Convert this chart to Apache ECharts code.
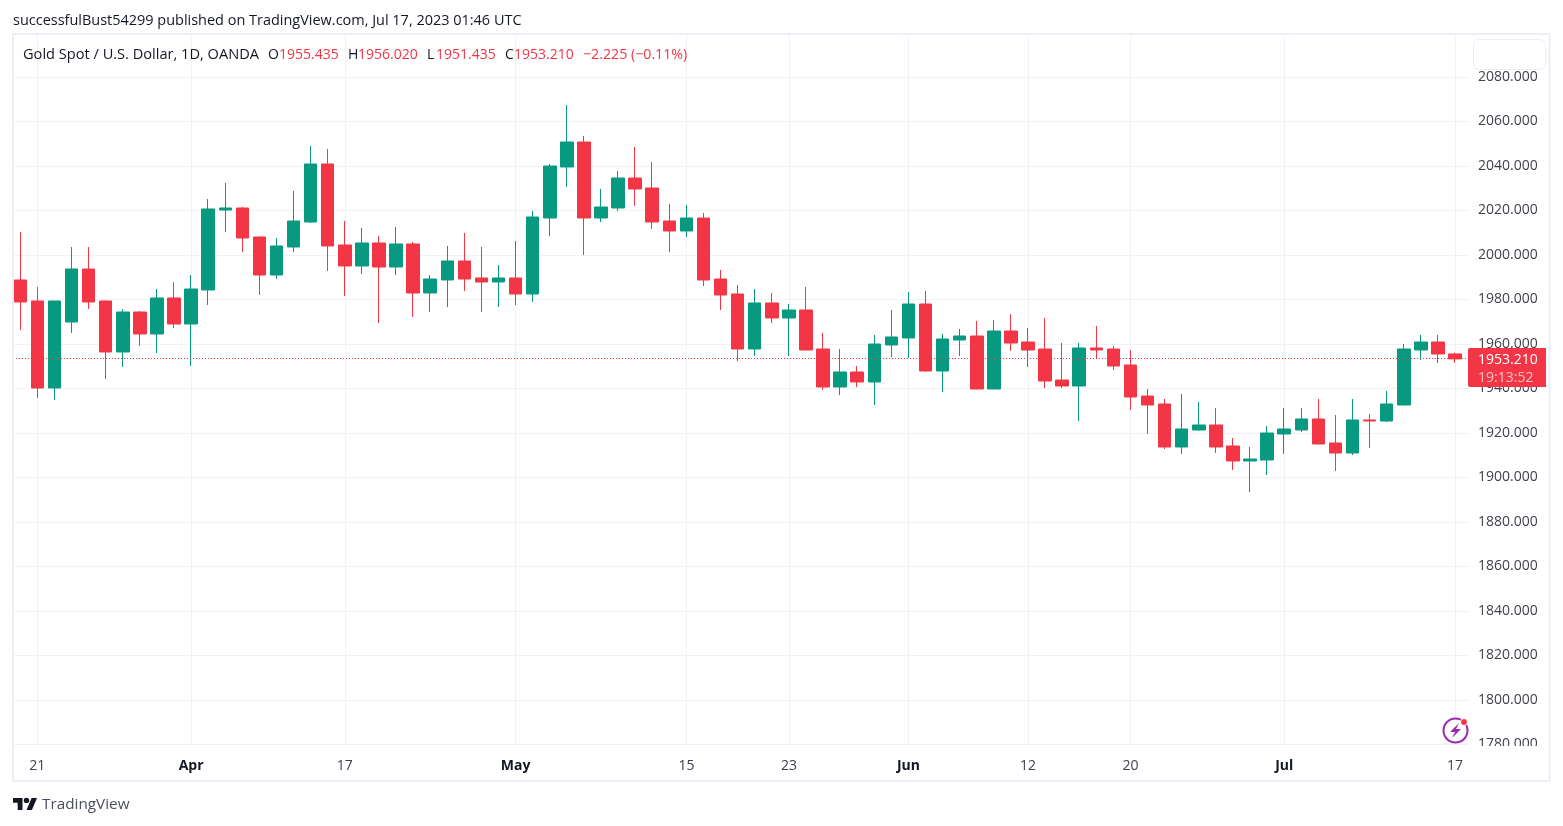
<!DOCTYPE html>
<html><head><meta charset="utf-8">
<style>html,body{margin:0;padding:0;background:#fff}#c{width:1563px;height:826px}</style>
<script src="https://cdn.jsdelivr.net/npm/echarts@6/dist/echarts.min.js"></script>
</head><body><div id="c"></div>
<script>
const FONT = '"Open Sans", sans-serif';
const UP = '#089981', DOWN = '#F23645', GRID = '#F1F2F4', BORDER = '#EEEFF6', TEXT = '#131722', AXIS_TEXT = '#3F424C';

const opens = [1988.68,1979.24,1940.14,1969.8,1993.62,1979.24,1956.32,1974.29,1964.41,1980.59,1968.9,1984.18,2020.14,2021.04,2008.0,1990.92,2003.51,2014.74,2040.81,2004.41,1994.97,2005.31,1994.52,2004.86,1982.83,1988.68,1997.22,1989.58,1987.78,1989.58,1982.38,2016.54,2039.46,2050.7,2016.54,2021.04,2034.52,2030.03,2015.19,2010.7,2016.54,1989.13,1982.38,1957.67,1978.34,1971.6,1975.19,1957.66,1940.59,1947.33,1942.83,1959.46,1962.61,1977.89,1947.78,1961.71,1963.51,1939.69,1965.75,1960.81,1957.66,1943.73,1941.04,1958.11,1957.66,1950.47,1936.54,1932.95,1913.62,1921.26,1923.51,1914.07,1907.33,1907.78,1919.46,1921.26,1926.21,1915.42,1910.92,1925.76,1925.31,1932.5,1957.22,1960.81,1955.435];
const closes = [1978.79,1940.14,1979.24,1993.62,1978.79,1956.32,1974.29,1964.41,1980.59,1968.9,1984.63,2020.59,2021.04,2007.55,1990.92,2003.96,2015.19,2040.81,2003.96,1994.97,2005.31,1994.52,2004.86,1982.83,1989.13,1997.22,1989.13,1987.78,1989.58,1982.38,2016.99,2039.91,2050.7,2016.54,2021.49,2034.52,2029.58,2014.74,2010.7,2016.54,1988.68,1981.94,1957.67,1978.34,1971.6,1975.19,1957.21,1940.59,1947.33,1942.83,1959.91,1963.06,1977.89,1947.78,1962.16,1963.51,1939.69,1965.75,1960.36,1957.21,1943.28,1941.04,1958.11,1957.21,1950.02,1936.09,1932.5,1913.62,1921.71,1923.51,1913.62,1907.33,1908.23,1919.91,1921.71,1926.21,1914.97,1910.92,1925.76,1925.31,1932.95,1957.67,1960.81,1955.42,1953.21];
const lows = [1966.2,1935.64,1934.74,1964.86,1975.64,1944.18,1949.58,1959.01,1955.87,1967.1,1950.03,1977.44,2010.25,2001.26,1981.94,1989.13,2001.26,2014.29,1992.72,1981.49,1991.37,1969.35,1990.92,1972.05,1974.29,1976.54,1983.73,1974.29,1976.54,1977.44,1978.79,2008.45,2030.47,1999.91,2014.74,2019.69,2021.94,2011.6,2001.26,2008.0,1985.98,1975.19,1952.27,1954.52,1969.35,1954.52,1957.0,1939.24,1936.99,1940.59,1932.5,1954.07,1953.62,1947.5,1938.34,1954.52,1939.5,1939.5,1956.77,1949.57,1940.14,1940.14,1925.3,1953.17,1948.23,1930.25,1919.46,1912.72,1910.48,1921.0,1910.92,1903.28,1893.4,1901.04,1910.48,1920.36,1914.8,1902.83,1910.03,1913.17,1924.86,1932.3,1952.72,1951.37,1951.435];
const highs = [2010.25,1985.53,1979.24,2003.51,2003.51,1979.5,1975.64,1974.74,1984.63,1987.78,1990.92,2025.08,2032.27,2021.49,2008.2,2007.55,2028.68,2048.9,2047.55,2015.19,2012.05,2008.45,2012.5,2005.76,1990.92,2003.96,2009.8,2003.51,1995.42,2006.2,2019.69,2040.81,2067.33,2053.4,2029.58,2037.67,2048.45,2041.71,2022.83,2022.38,2018.79,1993.17,1986.43,1984.63,1982.83,1977.89,1985.53,1964.86,1957.66,1950.02,1963.96,1975.19,1983.28,1983.73,1964.41,1966.65,1970.25,1970.7,1973.39,1967.1,1971.6,1960.36,1960.36,1968.0,1959.01,1957.21,1939.69,1935.19,1937.44,1933.85,1931.15,1917.67,1913.62,1923.06,1931.15,1931.15,1935.19,1928.0,1935.19,1928.45,1938.79,1959.91,1963.96,1963.96,1956.02];

const tickIndex = [1,10,19,29,39,45,52,59,65,74,84];
const tickLabels = ['21','Apr','17','May','15','23','Jun','12','20','Jul','17'];
const boldTicks = ['Apr','May','Jun','Jul'];
const xMin = -0.427, xMax = 84.82;
const priceLine = 1953.4;
const headerParts = [
  ['Gold Spot / U.S. Dollar, 1D, OANDA', 23, TEXT, '14.6px'],
  ['O', 268, TEXT], ['1955.435', 279, DOWN],
  ['H', 348, TEXT], ['1956.020', 358, DOWN],
  ['L', 427, TEXT], ['1951.435', 436, DOWN],
  ['C', 505, TEXT], ['1953.210', 514, DOWN],
  ['\u22122.225 (\u22120.11%)', 583, DOWN, '14.2px']
];

const rows = opens.map((o, i) => [i, o, closes[i], lows[i], highs[i]]);
const txt = (t, x, y, fill, size) => ({type:'text', x, y, z:50, style:{text:t, fill, font:(size||'14px')+' '+FONT, textVerticalAlign:'middle'}});

const chart = echarts.init(document.getElementById('c'), null, {renderer:'canvas'});
chart.setOption({
  animation:false,
  backgroundColor:'#fff',
  grid:{left:13, width:1456, top:34, height:710.3, containLabel:false},
  xAxis:{
    type:'value', min:xMin, max:xMax, position:'bottom',
    axisLine:{show:true, onZero:false, lineStyle:{color:GRID, width:1}},
    axisTick:{show:false, customValues:tickIndex},
    splitLine:{show:true, lineStyle:{color:GRID, width:1}},
    axisLabel:{
      customValues:tickIndex, margin:15, fontSize:14, fontFamily:FONT, color:AXIS_TEXT, hideOverlap:false,
      showMinLabel:true, showMaxLabel:true,
      formatter:v=>{const l=tickLabels[tickIndex.indexOf(v)]; return boldTicks.includes(l)?'{b|'+l+'}':l;},
      rich:{b:{fontWeight:'bold', fontSize:14, fontFamily:FONT, color:TEXT}}
    }
  },
  yAxis:{
    type:'value', position:'right', min:1780, max:2099.24, interval:20,
    axisLine:{show:false}, axisTick:{show:false},
    splitLine:{show:true, lineStyle:{color:GRID, width:1}},
    axisLabel:{margin:9, fontSize:14, fontFamily:FONT, color:AXIS_TEXT, showMaxLabel:false, showMinLabel:true, formatter:v=>v.toFixed(3)}
  },
  series:[{
    type:'candlestick', data:rows, encode:{x:0, y:[1,2,3,4]},
    barWidth:13, z:2,
    itemStyle:{color:UP, color0:DOWN, borderColor:UP, borderColor0:DOWN, borderWidth:1}
  },{
    type:'line', z:3, silent:true, symbol:'none', data:[[xMin,priceLine],[xMax,priceLine]],
    lineStyle:{color:DOWN, type:[1,2], width:1}, itemStyle:{color:DOWN}
  }],
  graphic:[
    {type:'rect', z:40, shape:{x:1470, y:746, width:78, height:33}, style:{fill:'#fff'}},
    {type:'rect', z:41, shape:{x:13, y:34, width:1536.5, height:747}, style:{fill:'none', stroke:BORDER, lineWidth:2}},
    {type:'rect', z:42, shape:{x:1473.5, y:39.5, width:72, height:30, r:6}, style:{fill:'#fff', stroke:'#EDEEF1', lineWidth:1}},
    {type:'rect', z:45, shape:{x:1468, y:348, width:78, height:39, r:[2,0,0,2]}, style:{fill:DOWN}},
    txt('1953.210', 1478, 360, '#fff'),
    txt('19:13:52', 1478, 378, '#FBC2C7'),
    txt('successfulBust54299 published on TradingView.com, Jul 17, 2023 01:46 UTC', 13, 21, TEXT, '14.47px'),
    ...headerParts.map(p => txt(p[0], p[1], 55, p[2], p[3])),
    {type:'polygon', z:50, shape:{points:[[13,798],[22.5,798],[22.5,810],[17.7,810],[17.7,802.7],[13,802.7]]}, style:{fill:TEXT}},
    {type:'polygon', z:50, shape:{points:[[26.5,810],[31.9,810],[37,798],[31.6,798]]}, style:{fill:TEXT}},
    {type:'circle', z:50, shape:{cx:26.5, cy:800.4, r:2.7}, style:{fill:TEXT}},
    txt('TradingView', 42, 805, '#4A4E5A', '15.3px'),
    {type:'circle', z:50, shape:{cx:1455.5, cy:730.5, r:12}, style:{fill:'#fff', stroke:'#9C27B0', lineWidth:2}},
    {type:'polygon', z:51, shape:{points:[[1459,723],[1450,732],[1455,732],[1452,738],[1461,729],[1456,729]]}, style:{fill:'#9C27B0'}},
    {type:'circle', z:52, shape:{cx:1464, cy:722, r:3.5}, style:{fill:DOWN, stroke:'#fff', lineWidth:1}}
  ]
});
</script></body></html>
